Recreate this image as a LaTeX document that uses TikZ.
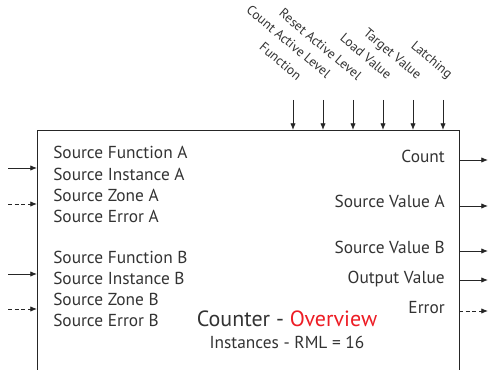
\documentclass[tikz,border=0pt]{standalone}
\usepackage{fontspec}
\setmainfont{PT Sans}
\usepackage{xcolor}
\usepackage{tikz}
\usetikzlibrary{arrows.meta}
\definecolor{CntText}{HTML}{333333}
\definecolor{CntRed}{HTML}{ED1C24}

\begin{document}
\begin{tikzpicture}[x=0.75pt,y=-0.75pt,
  sig/.style={-{Latex[length=5pt,width=4pt]},line width=0.6pt,black!85},
  errsig/.style={sig,dash pattern=on 3pt off 2pt},
  lbl/.style={text=CntText,font=\fontsize{13}{15}\selectfont,inner sep=0pt},
  ctl/.style={lbl,font=\fontsize{10}{12}\selectfont,rotate=-40,anchor=base east}]
\useasboundingbox (0,0) rectangle (490,370);
% block outline, open at the bottom
\coordinate (boxSW) at (37,370);
\coordinate (boxNW) at (37,130);
\coordinate (boxNE) at (459,130);
\coordinate (boxSE) at (459,370);
\draw[line width=0.6pt,black!85] (boxSW)--(boxNW)--(boxNE)--(boxSE);

% control inputs on top
\coordinate (ctlFn) at (293,100);
\coordinate (ctlCnt) at (323,100);
\coordinate (ctlRst) at (353,100);
\coordinate (ctlLoad) at (383,100);
\coordinate (ctlTgt) at (413,100);
\coordinate (ctlLatch) at (443,100);
\draw[sig] (ctlFn)--(ctlFn |- boxNW);
\draw[sig] (ctlCnt)--(ctlCnt |- boxNW);
\draw[sig] (ctlRst)--(ctlRst |- boxNW);
\draw[sig] (ctlLoad)--(ctlLoad |- boxNW);
\draw[sig] (ctlTgt)--(ctlTgt |- boxNW);
\draw[sig] (ctlLatch)--(ctlLatch |- boxNW);
\node[ctl] (lblFn) at (297,81) {Function};
\node[ctl] (lblCnt) at (326,79) {Count Active Level};
\node[ctl] (lblRst) at (357,81) {Reset Active Level};
\node[ctl] (lblLoad) at (387,80) {Load Value};
\node[ctl] (lblTgt) at (417,80) {Target Value};
\node[ctl] (lblLatch) at (448,79) {Latching};

% source A inputs
\node[lbl,anchor=base west] (fnA) at (53,159) {Source Function A};
\node[lbl,anchor=base west] (instA) at (53,180.5) {Source Instance A};
\node[lbl,anchor=base west] (zoneA) at (53,201.5) {Source Zone A};
\node[lbl,anchor=base west] (errA) at (53,222.5) {Source Error A};
\coordinate (inA) at (8,168);
\coordinate (inErrA) at (8,204);
\draw[sig] (inA)--(inA -| boxNW);
\draw[errsig] (inErrA)--(inErrA -| boxNW);

% source B inputs
\node[lbl,anchor=base west] (fnB) at (53,264) {Source Function B};
\node[lbl,anchor=base west] (instB) at (53,285) {Source Instance B};
\node[lbl,anchor=base west] (zoneB) at (53,306) {Source Zone B};
\node[lbl,anchor=base west] (errB) at (53,327) {Source Error B};
\coordinate (inB) at (8,274);
\coordinate (inErrB) at (8,309);
\draw[sig] (inB)--(inB -| boxNW);
\draw[errsig] (inErrB)--(inErrB -| boxNW);

% outputs
\node[lbl,anchor=base east] (outCount) at (445,163) {Count};
\node[lbl,anchor=base east] (outValA) at (445,208) {Source Value A};
\node[lbl,anchor=base east] (outValB) at (445,254) {Source Value B};
\node[lbl,anchor=base east] (outVal) at (445,284) {Output Value};
\node[lbl,anchor=base east] (outErr) at (445,314) {Error};
\coordinate (endCount) at (488,160);
\coordinate (endValA) at (488,206);
\coordinate (endValB) at (488,251);
\coordinate (endVal) at (488,280);
\coordinate (endErr) at (488,311);
\draw[sig] (endCount -| boxNE)--(endCount);
\draw[sig] (endValA -| boxNE)--(endValA);
\draw[sig] (endValB -| boxNE)--(endValB);
\draw[sig] (endVal -| boxNE)--(endVal);
\draw[errsig] (endErr -| boxNE)--(endErr);

% title
\node[lbl,anchor=base,font=\fontsize{16.5}{18}\selectfont] (title) at (287,327) {Counter - \textcolor{CntRed}{Overview}};
\node[lbl,anchor=base] (inst) at (287,349) {Instances - RML = 16};
\end{tikzpicture}
\end{document}
